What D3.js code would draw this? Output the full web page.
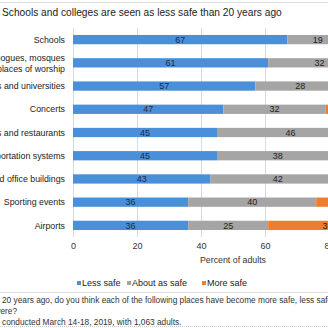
<!DOCTYPE html>
<html>
<head>
<meta charset="utf-8">
<script src="https://cdn.jsdelivr.net/npm/d3@7"></script>
<style>
  html, body { margin: 0; padding: 0; background: #fff; overflow: hidden; }
  svg { display: block; font-family: "Liberation Sans", Arial, sans-serif; }
</style>
</head>
<body>
<svg id="box" width="328" height="328"></svg>
<script>
// survey data, percent of adults
let places = [
  ["Schools"],
  ["Churches, synagogues, mosques", "and other places of worship"],
  ["Colleges and universities"],
  ["Concerts"],
  ["Stores and restaurants"],
  ["Public transportation systems"],
  ["Government and office buildings"],
  ["Sporting events"],
  ["Airports"]
];
let lessSafe  = [67, 61, 57, 47, 45, 45, 43, 36, 36];
let aboutSafe = [19, 32, 28, 32, 46, 38, 42, 40, 25];
let moreSafe  = [13,  6, 14, 19,  8, 16, 14, 22, 37];
let xTicks = [0, 20, 40, 60, 80, 100];
let seriesNames = ["Less safe", "About as safe", "More safe"];
let colors = ["#4a8fd9", "#a5a5a5", "#ed7d31"];
let labelColors = ["#1c2b45", "#222", "#222"];

let box = d3.select("#box");
let w = 328, h = 328;

let x = d3.scaleLinear().domain([0, 100]).range([73, 393]);
let y = d3.scaleBand().domain(d3.range(places.length)).range([28, 237]).paddingInner(0.6).paddingOuter(0.3);

// frame lines
box.append("line").attr("x1", 0).attr("x2", w).attr("y1", 2.5).attr("y2", 2.5).style("stroke", "#ddd");
box.append("line").attr("x1", 0).attr("x2", w).attr("y1", 292.5).attr("y2", 292.5).style("stroke", "#ddd");
box.append("line").attr("x1", 0).attr("x2", w).attr("y1", 326.5).attr("y2", 326.5)
  .style("stroke", "#ccc").style("stroke-dasharray", "1,1");

box.append("text").attr("x", 2).attr("y", 16).style("font-size", "10.2px").style("fill", "#222")
  .text("Schools and colleges are seen as less safe than 20 years ago");

// gridlines + tick labels
let xAxis = d3.axisBottom(x).tickValues(xTicks).tickSize(-(237 - 28)).tickPadding(6);
let gx = box.append("g").attr("transform", "translate(0,237)").call(xAxis);
gx.select(".domain").remove();
gx.selectAll(".tick line").style("stroke", "#d9d9d9");
gx.selectAll(".tick text").style("font-size", "9px").style("fill", "#333").style("font-family", "Liberation Sans, Arial, sans-serif");

box.append("text").attr("x", x(50)).attr("y", 263).attr("text-anchor", "middle")
  .style("font-size", "8.8px").style("fill", "#333").text("Percent of adults");

// stacked bars
let rows = places.map((p, i) => ({ i: i, vals: [lessSafe[i], aboutSafe[i], moreSafe[i]] }));
rows.forEach(r => {
  let start = 0;
  r.vals.forEach((v, k) => {
    box.append("rect").attr("x", x(start)).attr("y", y(r.i)).attr("width", x(start + v) - x(start))
      .attr("height", y.bandwidth()).attr("fill", colors[k]);
    box.append("text").attr("x", x(start + v / 2)).attr("y", y(r.i) + y.bandwidth() / 2 + 3.2)
      .attr("text-anchor", "middle").style("font-size", "9px").style("fill", labelColors[k]).text(v);
    start += v;
  });
});

// category labels
places.forEach((p, i) => {
  let cy = y(i) + y.bandwidth() / 2;
  p.forEach((line, j) => {
    box.append("text").attr("x", 65).attr("y", cy + 3.2 + (j - (p.length - 1) / 2) * 11)
      .attr("text-anchor", "end").style("font-size", "8.8px").style("fill", "#222").text(line);
  });
});

// legend
let legX = [77, 127, 202];
seriesNames.forEach((s, k) => {
  box.append("rect").attr("x", legX[k]).attr("y", 281).attr("width", 4).attr("height", 4).attr("fill", colors[k]);
  box.append("text").attr("x", legX[k] + 5).attr("y", 286).style("font-size", "9px").style("fill", "#222").text(s);
});

// note lines: [part left of the frame, rest]; shifted so the rest starts near x=2
let notes = [
  ["Question: Compared with ", "20 years ago, do you think each of the following places have become more safe, less safe, or about as safe as they were?", 2],
  ["safe as they w", "ere?", 0.5],
  ["Note: Survey ", "conducted March 14-18, 2019, with 1,063 adults.", 2]
];
notes.forEach((n, j) => {
  let t = box.append("text").attr("y", 303 + j * 11).style("font-size", "8.3px").style("fill", "#333")
    .text(n[0] + n[1]);
  let pw = t.node().getSubStringLength(0, n[0].length);
  t.attr("x", n[2] - pw);
});
</script>
</body>
</html>
